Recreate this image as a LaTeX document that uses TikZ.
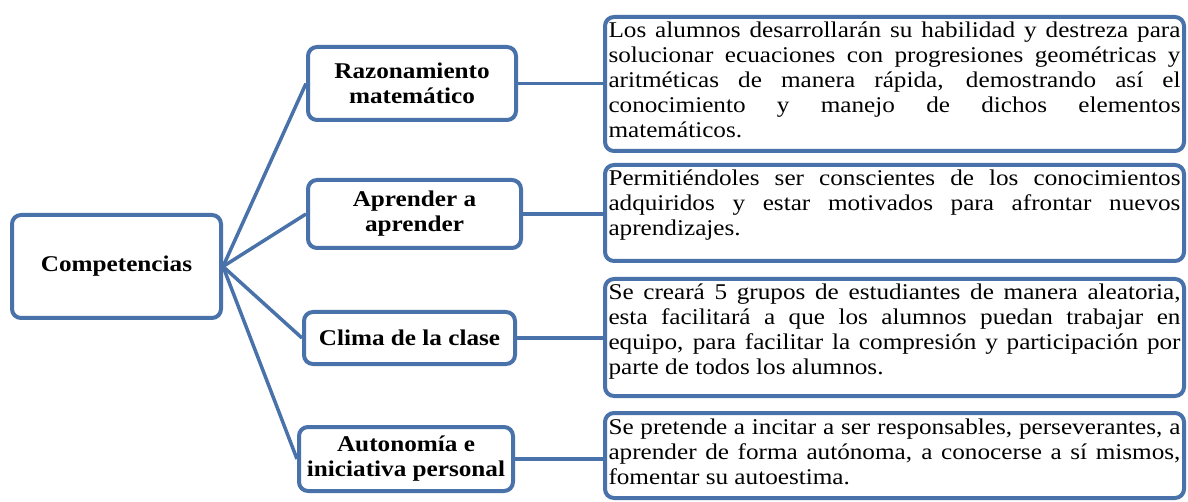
\documentclass[tikz,border=0pt]{standalone}
\usepackage{fontspec}
\setmainfont{Liberation Serif}[FakeStretch=1.12]
\definecolor{bl}{RGB}{74,114,170}
\tikzset{
  box/.style={draw=bl, line width=4pt, rounded corners=9pt, fill=white, inner sep=0pt},
  mbox/.style={box, align=center, font=\fontsize{22.5}{25}\selectfont\bfseries},
  rbox/.style={box, minimum width=579pt, font=\fontsize{22.5}{25}\selectfont},
  link/.style={draw=bl, line width=3.5pt},
}
\newcommand{\jl}[1]{\makebox[\linewidth][s]{#1}}
\newcommand{\fst}{\rule{0pt}{21pt}}
\begin{document}
\begin{tikzpicture}[x=1pt,y=-1pt]
\useasboundingbox (0,0) rectangle (1188,502);
% centre node
\node[mbox, minimum width=209pt, minimum height=103pt] (c) at (116.5,266.5) {Competencias};
% middle nodes
\node[mbox, minimum width=208pt, minimum height=73pt] (m1) at (412,83.5) {Razonamiento\\matemático};
\node[mbox, minimum width=213pt, minimum height=68pt] (m2) at (414.5,214) {Aprender a\\aprender};
\node[mbox, minimum width=211pt, minimum height=52pt] (m3) at (409.5,338) {Clima de la clase};
\node[mbox, minimum width=214pt, minimum height=64pt] (m4) at (406,459) {Autonomía e\\iniciativa personal};
% right nodes
\node[rbox, minimum height=134pt] (r1) at (894.5,84) {\parbox[c][134pt][t]{572pt}{%
\fst\jl{Los alumnos desarrollarán su habilidad y destreza para}\\
\jl{solucionar ecuaciones con progresiones geométricas y}\\
\jl{aritméticas de manera rápida, demostrando así el}\\
\jl{conocimiento y manejo de dichos elementos}\\
matemáticos.}};
\node[rbox, minimum height=96pt] (r2) at (894.5,213) {\parbox[c][96pt][t]{572pt}{%
\fst\jl{Permitiéndoles ser conscientes de los conocimientos}\\
\jl{adquiridos y estar motivados para afrontar nuevos}\\
aprendizajes.}};
\node[rbox, minimum height=117pt] (r3) at (894.5,337.5) {\parbox[c][117pt][t]{572pt}{%
\fst\jl{Se creará 5 grupos de estudiantes de manera aleatoria,}\\
\jl{esta facilitará a que los alumnos puedan trabajar en}\\
\jl{equipo, para facilitar la compresión y participación por}\\
parte de todos los alumnos.}};
\node[rbox, minimum height=85pt] (r4) at (894.5,455.5) {\parbox[c][85pt][t]{572pt}{%
\fst\jl{Se pretende a incitar a ser responsables, perseverantes, a}\\
\jl{aprender de forma autónoma, a conocerse a sí mismos,}\\
fomentar su autoestima.}};
% connectors
\foreach \m in {m1,m2,m3,m4} \draw[link] (c.east) -- (\m.west);
\draw[link] (m1.east) -- (m1.east -| r1.west);
\draw[link] (m2.east) -- (m2.east -| r2.west);
\draw[link] (m3.east) -- (m3.east -| r3.west);
\draw[link] (m4.east) -- (m4.east -| r4.west);
\end{tikzpicture}
\end{document}
